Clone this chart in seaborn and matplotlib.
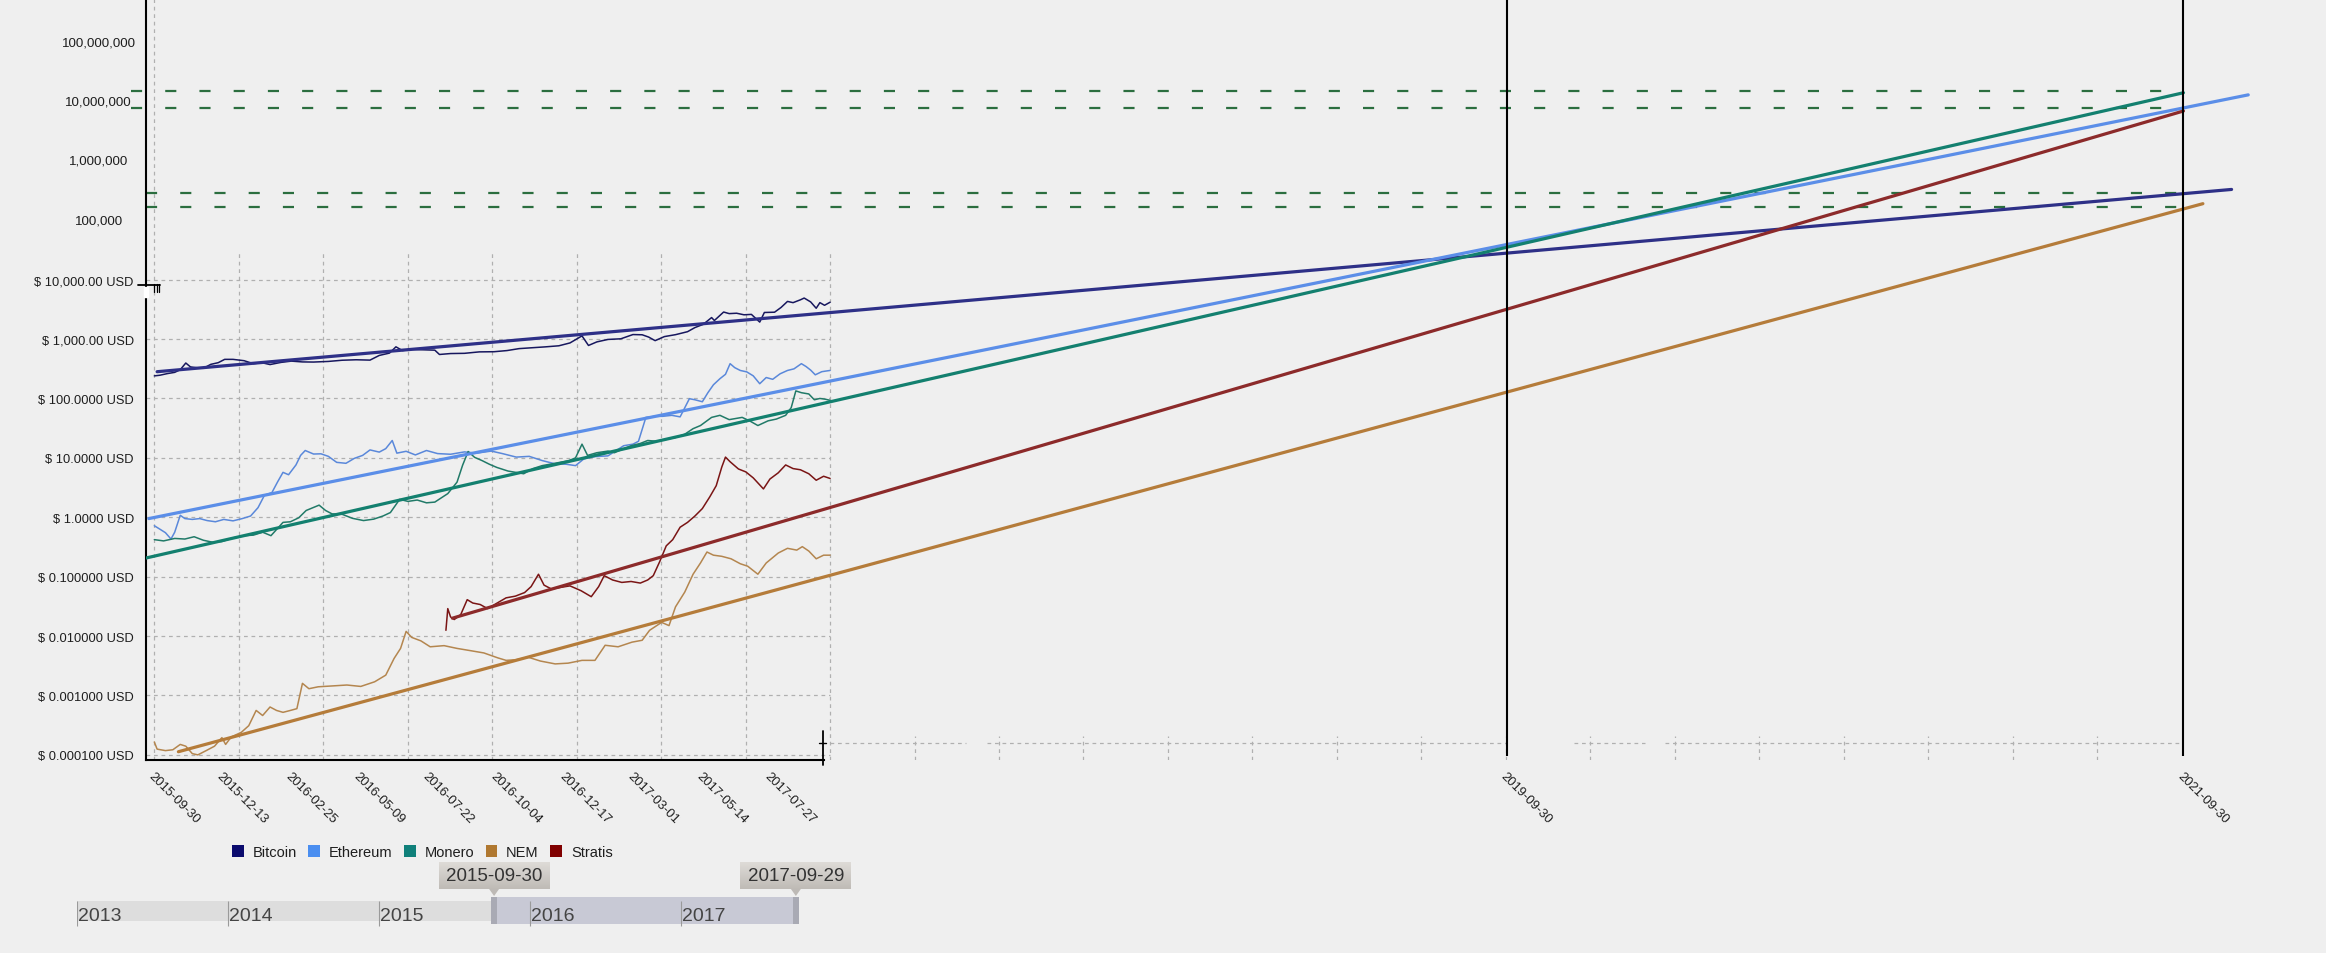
import numpy as np
import pandas as pd
import seaborn as sns
import matplotlib.pyplot as plt
import matplotlib.dates as mdates
import matplotlib.transforms as mtransforms
from matplotlib.patches import Patch, Rectangle
from matplotlib.lines import Line2D
from matplotlib.colors import LinearSegmentedColormap
from matplotlib.ticker import NullLocator

coins = ["Bitcoin", "Ethereum", "Monero", "NEM", "Stratis"]
price_colors = ["#17175e", "#5a88da", "#217a68", "#b4864f", "#7a1515"]
trend_colors = ["#2e3087", "#5b8ee8", "#13806f", "#b57c3a", "#8c2a2a"]
legend_colors = ["#0b0b6e", "#4a8ef0", "#10807a", "#b07830", "#800000"]

# price history (USD)
btc_dates = ["2015-09-30", "2015-10-06", "2015-10-14", "2015-10-22", "2015-10-28", "2015-11-03", "2015-11-08",
             "2015-11-14", "2015-11-22", "2015-11-30", "2015-12-08", "2015-12-15", "2015-12-24", "2016-01-05",
             "2016-01-15", "2016-01-24", "2016-02-02", "2016-02-14", "2016-02-25", "2016-03-08", "2016-03-20",
             "2016-04-05", "2016-04-20", "2016-05-05", "2016-05-20", "2016-05-30", "2016-06-10", "2016-06-17",
             "2016-06-24", "2016-07-04", "2016-07-15", "2016-07-29", "2016-08-03", "2016-08-15", "2016-08-30",
             "2016-09-15", "2016-10-01", "2016-10-15", "2016-10-28", "2016-11-10", "2016-11-25", "2016-12-10",
             "2016-12-22", "2017-01-04", "2017-01-11", "2017-01-20", "2017-02-01", "2017-02-15", "2017-02-28",
             "2017-03-10", "2017-03-17", "2017-03-24", "2017-04-03", "2017-04-15", "2017-04-28", "2017-05-06",
             "2017-05-15", "2017-05-24", "2017-05-27", "2017-06-06", "2017-06-12", "2017-06-20", "2017-06-28",
             "2017-07-06", "2017-07-15", "2017-07-20", "2017-07-31", "2017-08-07", "2017-08-14", "2017-08-20",
             "2017-08-28", "2017-09-01", "2017-09-08", "2017-09-14", "2017-09-18", "2017-09-23", "2017-09-29"]
btc_usd = [240, 246, 262, 275, 305, 395, 340, 330, 322, 375, 400, 455, 455, 432, 385, 400, 372, 405, 425, 412,
           410, 420, 440, 448, 442, 530, 580, 740, 640, 670, 660, 650, 550, 570, 575, 608, 612, 640, 690, 712,
           738, 770, 860, 1130, 780, 895, 985, 1010, 1190, 1180, 1080, 940, 1100, 1185, 1330, 1560, 1770, 2300,
           2050, 2850, 2680, 2720, 2560, 2600, 1930, 2800, 2830, 3400, 4300, 4100, 4580, 4900, 4220, 3300, 4100,
           3700, 4170]

eth_dates = ["2015-09-30", "2015-10-06", "2015-10-12", "2015-10-18", "2015-10-22", "2015-10-28", "2015-11-02",
             "2015-11-10", "2015-11-18", "2015-11-26", "2015-12-05", "2015-12-14", "2015-12-24", "2016-01-03",
             "2016-01-12", "2016-01-20", "2016-01-27", "2016-02-04", "2016-02-10", "2016-02-16", "2016-02-22",
             "2016-03-01", "2016-03-06", "2016-03-11", "2016-03-20", "2016-03-28", "2016-04-05", "2016-04-14",
             "2016-04-24", "2016-05-03", "2016-05-12", "2016-05-20", "2016-05-30", "2016-06-06", "2016-06-13",
             "2016-06-18", "2016-06-28", "2016-07-08", "2016-07-20", "2016-08-01", "2016-08-15", "2016-08-30",
             "2016-09-12", "2016-09-28", "2016-10-10", "2016-10-25", "2016-11-08", "2016-11-22", "2016-12-05",
             "2016-12-18", "2016-12-28", "2017-01-06", "2017-01-18", "2017-02-01", "2017-02-18", "2017-02-28",
             "2017-03-06", "2017-03-14", "2017-03-24", "2017-04-01", "2017-04-11", "2017-04-20", "2017-04-30",
             "2017-05-06", "2017-05-14", "2017-05-20", "2017-05-26", "2017-06-02", "2017-06-08", "2017-06-13",
             "2017-06-18", "2017-06-24", "2017-07-01", "2017-07-08", "2017-07-15", "2017-07-22", "2017-07-29",
             "2017-08-06", "2017-08-14", "2017-08-21", "2017-08-29", "2017-09-03", "2017-09-08", "2017-09-13",
             "2017-09-20", "2017-09-25", "2017-09-29"]
eth_usd = [0.72, 0.63, 0.55, 0.43, 0.56, 1.08, 0.95, 0.92, 0.95, 0.88, 0.84, 0.92, 0.87, 0.95, 1.05, 1.45, 2.35,
           2.6, 3.9, 5.7, 5.2, 7.6, 11.0, 13.3, 11.6, 11.7, 10.6, 8.4, 8.1, 9.8, 11.0, 13.6, 12.5, 14.3, 19.6, 12.0,
           12.9, 11.2, 13.3, 11.8, 11.5, 12.6, 12.0, 13.0, 11.8, 10.3, 10.6, 9.0, 8.0, 7.8, 7.4, 9.6, 10.5, 10.8,
           16.0, 17.0, 19.0, 48.0, 50.0, 50.0, 52.0, 49.0, 99.0, 95.0, 88.0, 125.0, 170.0, 215.0, 255.0, 385.0,
           330.0, 296.0, 280.0, 240.0, 177.0, 225.0, 210.0, 260.0, 296.0, 315.0, 385.0, 345.0, 300.0, 250.0,
           282.0, 290.0, 296.0]

xmr_dates = ["2015-09-30", "2015-10-10", "2015-10-22", "2015-11-02", "2015-11-12", "2015-11-22", "2015-12-02",
             "2015-12-12", "2015-12-24", "2016-01-05", "2016-01-15", "2016-01-25", "2016-02-03", "2016-02-16",
             "2016-02-24", "2016-03-04", "2016-03-12", "2016-03-26", "2016-04-02", "2016-04-09", "2016-04-20",
             "2016-05-01", "2016-05-13", "2016-05-24", "2016-06-03", "2016-06-11", "2016-06-21", "2016-06-30",
             "2016-07-10", "2016-07-20", "2016-07-29", "2016-08-12", "2016-08-22", "2016-08-28", "2016-09-03",
             "2016-09-10", "2016-09-18", "2016-09-26", "2016-10-04", "2016-10-16", "2016-11-02", "2016-11-12",
             "2016-11-22", "2016-12-04", "2016-12-21", "2016-12-28", "2017-01-04", "2017-01-10", "2017-01-20",
             "2017-02-01", "2017-02-08", "2017-02-17", "2017-02-26", "2017-03-08", "2017-03-16", "2017-03-26",
             "2017-04-05", "2017-04-15", "2017-04-25", "2017-05-04", "2017-05-12", "2017-05-24", "2017-06-02",
             "2017-06-12", "2017-06-26", "2017-07-04", "2017-07-13", "2017-07-24", "2017-08-02", "2017-08-12",
             "2017-08-18", "2017-08-23", "2017-08-29", "2017-09-06", "2017-09-12", "2017-09-18", "2017-09-24",
             "2017-09-29"]
xmr_usd = [0.42, 0.40, 0.44, 0.43, 0.47, 0.41, 0.38, 0.39, 0.45, 0.49, 0.50, 0.56, 0.49, 0.82, 0.84, 0.98, 1.30,
           1.60, 1.30, 1.14, 1.12, 0.96, 0.88, 0.93, 1.05, 1.20, 2.00, 1.85, 1.95, 1.75, 1.80, 2.50, 3.90, 7.50,
           12.8, 10.2, 9.0, 7.8, 6.9, 6.0, 5.4, 6.6, 7.4, 8.0, 9.0, 10.0, 17.0, 11.0, 12.2, 13.0, 12.2, 14.0, 16.0,
           17.5, 19.6, 19.0, 20.5, 22.0, 25.0, 31.0, 35.0, 48.0, 52.0, 44.0, 48.0, 42.0, 35.0, 42.0, 45.0, 52.0,
           70.0, 134.0, 125.0, 119.0, 95.0, 100.0, 97.0, 93.0]

nem_dates = ["2015-09-30", "2015-10-03", "2015-10-12", "2015-10-20", "2015-10-28", "2015-11-03", "2015-11-10",
             "2015-11-16", "2015-11-25", "2015-12-04", "2015-12-12", "2015-12-16", "2015-12-22", "2016-01-02",
             "2016-01-10", "2016-01-18", "2016-01-25", "2016-02-02", "2016-02-09", "2016-02-16", "2016-02-24",
             "2016-03-02", "2016-03-08", "2016-03-15", "2016-03-25", "2016-04-10", "2016-04-25", "2016-05-10",
             "2016-05-25", "2016-06-06", "2016-06-15", "2016-06-22", "2016-06-28", "2016-07-04", "2016-07-14",
             "2016-07-24", "2016-08-08", "2016-08-22", "2016-09-05", "2016-09-20", "2016-10-05", "2016-10-14",
             "2016-10-25", "2016-11-07", "2016-11-20", "2016-12-06", "2016-12-20", "2017-01-04", "2017-01-18",
             "2017-01-29", "2017-02-12", "2017-02-27", "2017-03-10", "2017-03-18", "2017-03-31", "2017-04-08",
             "2017-04-15", "2017-04-25", "2017-05-04", "2017-05-12", "2017-05-19", "2017-05-26", "2017-06-04",
             "2017-06-14", "2017-06-24", "2017-07-02", "2017-07-13", "2017-07-22", "2017-08-04", "2017-08-14",
             "2017-08-24", "2017-08-30", "2017-09-06", "2017-09-14", "2017-09-22", "2017-09-29"]
nem_usd = [0.000165, 0.000125, 0.000118, 0.000122, 0.000150, 0.000140, 0.000105, 0.000100, 0.000118, 0.000140,
           0.000195, 0.000150, 0.000200, 0.000240, 0.000310, 0.000560, 0.000460, 0.000640, 0.000560, 0.000520,
           0.000560, 0.000600, 0.001600, 0.001300, 0.001400, 0.001450, 0.001500, 0.001420, 0.001700, 0.002200,
           0.004200, 0.006200, 0.012000, 0.009500, 0.008300, 0.006600, 0.006900, 0.006200, 0.005700, 0.005200,
           0.004300, 0.003900, 0.004000, 0.004400, 0.003800, 0.003400, 0.003500, 0.003900, 0.003900, 0.007000,
           0.006600, 0.007900, 0.008500, 0.012500, 0.017000, 0.015000, 0.031000, 0.055000, 0.110000, 0.170000,
           0.260000, 0.230000, 0.220000, 0.200000, 0.165000, 0.150000, 0.110000, 0.170000, 0.250000, 0.300000,
           0.280000, 0.320000, 0.270000, 0.200000, 0.230000, 0.230000]

strat_dates = ["2016-08-10", "2016-08-12", "2016-08-15", "2016-08-19", "2016-08-26", "2016-09-02", "2016-09-08",
               "2016-09-16", "2016-09-24", "2016-10-03", "2016-10-14", "2016-10-24", "2016-11-03", "2016-11-10",
               "2016-11-18", "2016-11-24", "2016-12-02", "2016-12-12", "2016-12-22", "2017-01-03", "2017-01-14",
               "2017-01-22", "2017-01-28", "2017-02-06", "2017-02-16", "2017-02-26", "2017-03-08", "2017-03-16",
               "2017-03-22", "2017-03-29", "2017-04-05", "2017-04-12", "2017-04-20", "2017-04-28", "2017-05-06",
               "2017-05-14", "2017-05-22", "2017-05-29", "2017-06-04", "2017-06-08", "2017-06-13", "2017-06-22",
               "2017-06-30", "2017-07-08", "2017-07-19", "2017-07-26", "2017-08-04", "2017-08-12", "2017-08-20",
               "2017-08-28", "2017-09-06", "2017-09-14", "2017-09-22", "2017-09-29"]
strat_usd = [0.0125, 0.029, 0.021, 0.019, 0.023, 0.041, 0.036, 0.034, 0.029, 0.035, 0.044, 0.047, 0.054, 0.068,
             0.110, 0.072, 0.062, 0.066, 0.070, 0.058, 0.046, 0.068, 0.104, 0.088, 0.080, 0.083, 0.078, 0.088,
             0.104, 0.180, 0.330, 0.420, 0.680, 0.820, 1.05, 1.40, 2.20, 3.40, 7.00, 10.3, 8.6, 6.5, 5.8, 4.6,
             3.0, 4.4, 5.6, 7.6, 6.6, 6.3, 5.4, 4.2, 4.9, 4.5]

# regression lines projected forward
trend_start = ["2015-10-03", "2015-09-24", "2015-09-21", "2015-10-26", "2016-08-17"]
trend_start_usd = [282, 0.95, 0.206, 0.000113, 0.020]
trend_end = ["2021-11-21", "2021-12-09", "2021-09-30", "2021-10-21", "2021-09-30"]
trend_end_usd = [3.3e5, 1.29e7, 1.4e7, 1.9e5, 6.9e6]

target_dates = ["2019-09-30", "2021-09-30"]
target_levels = [1.47e7, 7.74e6, 2.85e5, 1.64e5]

xtick_dates = ["2015-09-30", "2015-12-13", "2016-02-25", "2016-05-09", "2016-07-22", "2016-10-04",
               "2016-12-17", "2017-03-01", "2017-05-14", "2017-07-27", "2019-09-30", "2021-09-30"]
usd_ticks = [1e-4, 1e-3, 1e-2, 1e-1, 1, 10, 100, 1000, 10000]
usd_labels = ["$ 0.000100 USD", "$ 0.001000 USD", "$ 0.010000 USD", "$ 0.100000 USD", "$ 1.0000 USD",
              "$ 10.0000 USD", "$ 100.0000 USD", "$ 1,000.00 USD", "$ 10,000.00 USD"]
big_ticks = [1e5, 1e6, 1e7, 1e8]
big_labels = ["100,000", "1,000,000", "10,000,000", "100,000,000"]

years = ["2013", "2014", "2015", "2016", "2017"]
brush = ["2015-09-30", "2017-09-29"]

series = {"Bitcoin": (btc_dates, btc_usd), "Ethereum": (eth_dates, eth_usd), "Monero": (xmr_dates, xmr_usd),
          "NEM": (nem_dates, nem_usd), "Stratis": (strat_dates, strat_usd)}
prices = pd.concat([pd.DataFrame({"date": pd.to_datetime(d), "usd": v, "coin": c})
                    for c, (d, v) in series.items()], ignore_index=True)
trends = pd.DataFrame({"date": pd.to_datetime(trend_start + trend_end),
                       "usd": trend_start_usd + trend_end_usd,
                       "coin": coins + coins})

sns.set_style("white")
plt.rcParams["font.family"] = ["Liberation Sans", "DejaVu Sans"]
bg = "#efefef"

W, H = 2326, 954
fig = plt.figure(figsize=(W / 100, H / 100), dpi=100, facecolor=bg)
ax = fig.add_axes([146 / W, 1 - 761 / H, 1 - 146 / W, 761 / H])
ax.set_facecolor("none")

sns.lineplot(data=prices, x="date", y="usd", hue="coin", hue_order=coins, palette=price_colors,
             linewidth=1.1, legend=False, ax=ax, zorder=3)
sns.lineplot(data=trends, x="date", y="usd", hue="coin", hue_order=coins, palette=trend_colors,
             linewidth=2.3, legend=False, ax=ax, zorder=4)

ax.set_yscale("log")
ymin, ymax = 8.2e-5, 5.3e8
ax.set_ylim(ymin, ymax)
x0 = pd.Timestamp("2015-09-30")
xleft, xright = pd.Timestamp("2015-09-21"), pd.Timestamp("2022-03-03")
ax.set_xlim(xleft, xright)
ax.set_xlabel("")
ax.set_ylabel("")

# quarterly grid of the zoomed window
q = [x0 + pd.Timedelta(days=91.25 * k) for k in range(25)]
grid_kw = dict(colors="#b0b0b0", linewidth=0.9, linestyles=(0, (3, 3)), zorder=1)
ax.hlines(usd_ticks, xleft, q[8], **grid_kw)
ax.vlines(q[0], ymin, ymax, **grid_kw)
ax.vlines(q[1:9], ymin, 2.93e4, **grid_kw)
ax.vlines(q[9:24], ymin, 2.08e-4, **grid_kw)
for a, b in [(q[8], "2018-02-23"), ("2018-03-17", "2019-09-30"), ("2019-12-12", "2020-02-26"),
             ("2020-03-19", "2021-09-30")]:
    ax.hlines(1.6e-4, pd.Timestamp(a), pd.Timestamp(b), **grid_kw)

# projection markers
ax.vlines(pd.to_datetime(target_dates), 9.6e-5, ymax, colors="black", linewidth=1.5, zorder=5)
green = dict(colors="#2b6e3f", linewidth=1.6, linestyles=(0, (5, 10.4)), zorder=2, clip_on=False)
ax.hlines(target_levels[:2], x0 - pd.Timedelta(days=25), pd.Timestamp(target_dates[1]), **green)
ax.hlines(target_levels[2:], xleft, pd.Timestamp(target_dates[1]), **green)

# axes styling
for s in ["top", "right"]:
    ax.spines[s].set_visible(False)
ax.spines["left"].set_color("black")
ax.spines["left"].set_linewidth(1.5)
ax.spines["bottom"].set_color("black")
ax.spines["bottom"].set_linewidth(1.5)
ax.spines["bottom"].set_bounds(mdates.date2num(xleft), mdates.date2num(pd.Timestamp("2017-09-22")))

ax.yaxis.set_minor_locator(NullLocator())
ax.set_yticks(usd_ticks + big_ticks, usd_labels + [""] * 4)
ax.tick_params(axis="y", length=5.8, width=1.1, color="black", labelsize=9.3, pad=3, labelcolor="#1e1e1e")
yt = mtransforms.blended_transform_factory(fig.transFigure, ax.transData)
for v, lab in zip(big_ticks, big_labels):
    ax.text(98.7 / W, v, lab, transform=yt, ha="center", va="center", fontsize=9.6, color="#1e1e1e")

ax.set_xticks(pd.to_datetime(xtick_dates), xtick_dates, rotation=-45, ha="left", va="top",
              rotation_mode="anchor")
ax.set_xticks(pd.date_range("2015-09-30", "2017-09-22", freq="3D"), minor=True)
ax.tick_params(axis="x", which="major", length=0, pad=7, labelsize=9.4, labelcolor="#1e1e1e")
ax.tick_params(axis="x", which="minor", length=6.5, width=1.4, color="black")

# leftover bits of the axis break and brush edge
px = lambda x, y: (x / W, 1 - y / H)
def seg(x1, y1, x2, y2, lw=1.2, c="black"):
    fig.add_artist(Line2D([x1 / W, x2 / W], [1 - y1 / H, 1 - y2 / H], color=c, lw=lw,
                          transform=fig.transFigure))
fig.add_artist(Rectangle(px(144, 298), 4 / W, 10 / H, transform=fig.transFigure, color="white", zorder=10))
seg(138, 286, 160, 286, lw=1.3)
for xx in [154, 156.5, 159]:
    seg(xx, 285, xx, 293, lw=0.9)
seg(823, 732, 823, 766, lw=1.3)
seg(819, 744, 826, 744, lw=1.0)

# legend
handles = [Patch(facecolor=c, edgecolor="none") for c in legend_colors]
fig.legend(handles, coins, loc="center left", bbox_to_anchor=(232 / W, 1 - 853 / H), ncol=5,
           frameon=False, fontsize=10.5, handlelength=0.8, handleheight=0.8, handletextpad=0.6,
           columnspacing=0.8, borderpad=0, borderaxespad=0, labelcolor="#1e1e1e")

# time-range brush
tl = fig.add_axes([77 / W, 1 - 930 / H, (800 - 77) / W, 35 / H])
tl.set_facecolor("none")
tl.axis("off")
t0, t1 = pd.Timestamp("2013-01-01"), pd.Timestamp("2017-10-16")
b0, b1 = pd.to_datetime(brush)
hw = pd.Timedelta(days=14)
tl.axvspan(t0, b0, ymin=0.229, ymax=0.8, color="#dddddd", lw=0)
tl.axvspan(b0, b1 + hw, ymin=0.143, ymax=0.914, color="#c8c9d5", lw=0)
tl.axvspan(b0, b0 + hw, ymin=0.143, ymax=0.914, color="#a9aab4", lw=0)
tl.axvspan(b1, b1 + hw, ymin=0.143, ymax=0.914, color="#a9aab4", lw=0)
ydates = pd.to_datetime([y + "-01-01" for y in years])
tl.vlines(ydates, 0.086, 0.8, colors="#9a9a9a", linewidth=0.8)
for d, y in zip(ydates, years):
    tl.text(d + pd.Timedelta(days=3), 0.26, y, fontsize=14, color="#444", ha="left", va="baseline")

tip_cmap = LinearSegmentedColormap.from_list("tip", ["#dedbd7", "#bfbbb6"])
for d in [b0, b1]:
    c = d + pd.Timedelta(days=7)
    left = mdates.date2num(c - pd.Timedelta(days=134))
    right = mdates.date2num(c + pd.Timedelta(days=134))
    im = tl.imshow(np.linspace(0, 1, 50).reshape(-1, 1), cmap=tip_cmap, aspect="auto",
                   extent=[left, right, 1.143, 1.914], origin="upper", zorder=2)
    im.set_clip_on(False)
    tl.fill([c - pd.Timedelta(days=12), c + pd.Timedelta(days=12), c], [1.143, 1.143, 0.943],
            color="#bdb9b5", lw=0, clip_on=False, zorder=2)
    tl.text(c, 1.529, d.strftime("%Y-%m-%d"), ha="center", va="center", fontsize=13.5, color="#333",
            zorder=3, clip_on=False)
tl.set_xlim(t0, t1)
tl.set_ylim(0, 1)

fig.savefig("out.png", dpi=100, facecolor=bg)
